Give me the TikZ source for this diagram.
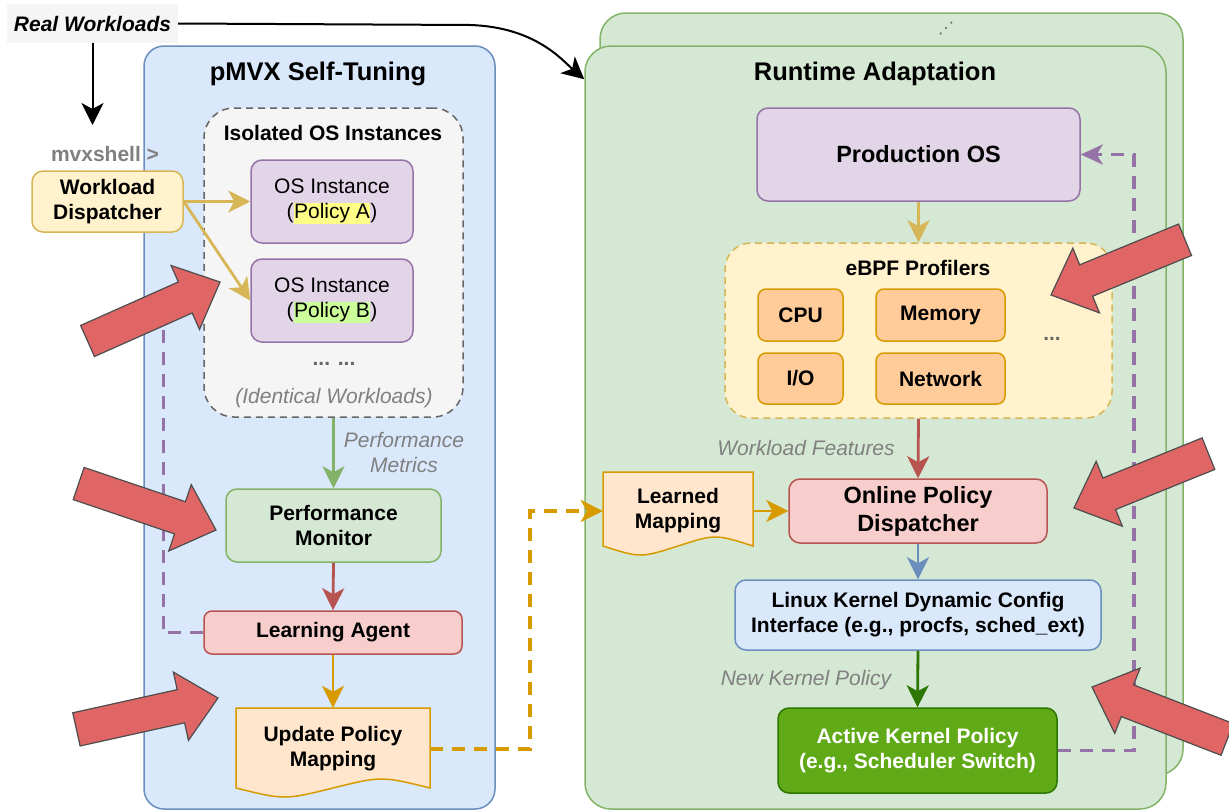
\documentclass[tikz,border=0pt]{standalone}
\usepackage{fontspec}
\setmainfont{Liberation Sans}
\newfontfamily\symfont{DejaVu Sans}
\usetikzlibrary{arrows.meta}
\definecolor{bluefill}{HTML}{DAE8FC}
\definecolor{blueline}{HTML}{6C8EBF}
\definecolor{greenfill}{HTML}{D5E8D4}
\definecolor{greenline}{HTML}{82B366}
\definecolor{purplefill}{HTML}{E1D5E7}
\definecolor{purpleline}{HTML}{9673A6}
\definecolor{yellowfill}{HTML}{FFF2CC}
\definecolor{yellowline}{HTML}{D6B656}
\definecolor{orangefill}{HTML}{FFE6CC}
\definecolor{orangeline}{HTML}{D79B00}
\definecolor{profilefill}{HTML}{FFCC99}
\definecolor{redfill}{HTML}{F8CECC}
\definecolor{redline}{HTML}{B85450}
\definecolor{grayfill}{HTML}{F5F5F5}
\definecolor{grayline}{HTML}{666666}
\definecolor{labelgray}{HTML}{808080}
\definecolor{activefill}{HTML}{60A917}
\definecolor{activeline}{HTML}{2D7600}
\definecolor{hintred}{HTML}{E06666}
\definecolor{hintline}{HTML}{4D4D4D}
\definecolor{hlyellow}{HTML}{FFFF88}
\definecolor{hlgreen}{HTML}{CCFF99}
\def\fatarrow{-- (-38,35) -- (-38,17) -- (-145,17) -- (-145,-17) -- (-38,-17) -- (-38,-35) -- cycle}
\def\docpath#1#2#3#4{(#1,#2) -- (#1+#3,#2) -- (#1+#3,#2+#4) .. controls (#1+0.75*#3,#2+#4-12) .. (#1+0.5*#3,#2+#4) .. controls (#1+0.25*#3,#2+#4+12) .. (#1,#2+#4) -- cycle}
\def\hilite#1#2{{\setlength{\fboxsep}{0.5pt}\colorbox{#1}{#2}}}

\begin{document}
\begin{tikzpicture}[x=1pt,y=-1pt,
    txt/.style={font=\fontsize{21}{25}\selectfont},
    bold/.style={font=\fontsize{21}{25}\selectfont\bfseries},
    big/.style={font=\fontsize{23.5}{28}\selectfont\bfseries},
    title/.style={font=\fontsize{25.5}{30}\selectfont\bfseries},
    lbl/.style={font=\fontsize{21}{25}\selectfont\itshape,text=labelgray,align=center},
    container/.style={rectangle,rounded corners=#1,line width=1.5pt,inner sep=0pt},
    box/.style={rectangle,rounded corners=11pt,line width=1.5pt,align=center,inner sep=0pt},
    flow/.style={line width=2.8pt,-{Stealth[length=22pt,width=22pt,inset=6pt]}},
    dashflow/.style={line width=3.5pt,dash pattern=on 13pt off 9pt},
    hint/.style={fill=hintred,draw=hintline,line width=1.2pt,line join=miter}]
\useasboundingbox (0,0) rectangle (1229,811);

\node[container=20pt,fill=bluefill,draw=blueline,minimum width=351pt,minimum height=763pt] (pmx) at (319.5,427.5) {};
\node[container=26pt,fill=greenfill,draw=greenline,minimum width=583pt,minimum height=762pt] (rtback) at (891.5,394) {};
\node[container=26pt,fill=greenfill,draw=greenline,minimum width=581pt,minimum height=763pt] (rtbox) at (875.5,427.5) {};
\node[title] (pmxtitle) at (318,74) {pMVX Self-Tuning};
\node[title] (rttitle) at (875,74) {Runtime Adaptation};
\node[font=\fontsize{16}{16}\selectfont\symfont,text=grayline,inner sep=0pt] (more) at (946,29) {⋰};

\node[fill=grayfill,minimum width=171pt,minimum height=39pt,font=\fontsize{21}{25}\selectfont\bfseries\itshape] (rw) at (92.5,23.5) {Real Workloads};
\coordinate (rwend) at (92.5,125);
\node[bold,text=labelgray] (mvx) at (105,154) {mvxshell >};
\node[box,bold,fill=yellowfill,draw=yellowline,minimum width=151pt,minimum height=61pt] (wd) at (107.5,201.5) {Workload\\Dispatcher};

\node[container=30pt,fill=grayfill,draw=grayline,dash pattern=on 7pt off 5pt,minimum width=259pt,minimum height=309pt] (iso) at (333.5,262.5) {};
\node[bold] (isotitle) at (333,133) {Isolated OS Instances};
\node[box,txt,fill=purplefill,draw=purpleline,minimum width=162pt,minimum height=83pt] (osa) at (332,201.5) {OS Instance\\(\hilite{hlyellow}{Policy A})};
\node[box,txt,fill=purplefill,draw=purpleline,minimum width=162pt,minimum height=83pt] (osb) at (332,300.5) {OS Instance\\(\hilite{hlgreen}{Policy B})};
\node[bold,text=grayline] (osmore) at (334,364) {... ...};
\node[lbl] (same) at (334,398) {(Identical Workloads)};

\node[box,bold,fill=greenfill,draw=greenline,minimum width=215pt,minimum height=73pt] (pm) at (333.5,525.5) {Performance\\Monitor};
\node[lbl] (metrics) at (404,452) {Performance\\Metrics};
\node[box,bold,rounded corners=8pt,fill=redfill,draw=redline,minimum width=258pt,minimum height=43pt] (la) at (333,632.5) {Learning Agent};
\filldraw[fill=orangefill,draw=orangeline,line width=1.5pt] \docpath{236}{708}{194}{80};
\node[bold,align=center,minimum width=194pt,minimum height=82pt] (upm) at (333,749) {Update Policy\\Mapping};

\node[box,big,fill=purplefill,draw=purpleline,minimum width=323pt,minimum height=93pt] (pos) at (918.5,154.5) {Production OS};
\node[container=26pt,fill=yellowfill,draw=yellowline,dash pattern=on 7pt off 5pt,minimum width=387pt,minimum height=175pt] (ebpf) at (918.5,330.5) {};
\node[bold] (ebpftitle) at (918,268) {eBPF Profilers};
\node[box,bold,rounded corners=8pt,fill=profilefill,draw=orangeline,minimum width=85pt,minimum height=52pt] (cpu) at (800.5,315) {CPU};
\node[box,bold,rounded corners=8pt,fill=profilefill,draw=orangeline,minimum width=129pt,minimum height=52pt] (mem) at (940.5,315) {Memory};
\node[box,bold,rounded corners=8pt,fill=profilefill,draw=orangeline,minimum width=85pt,minimum height=51pt] (io) at (800.5,378.5) {I/O};
\node[box,bold,rounded corners=8pt,fill=profilefill,draw=orangeline,minimum width=129pt,minimum height=51pt] (net) at (940.5,378.5) {Network};
\node[bold,text=grayline] (ebpfmore) at (1052,339) {...};

\node[lbl] (features) at (806,448) {Workload Features};
\filldraw[fill=orangefill,draw=orangeline,line width=1.5pt] \docpath{603}{472}{150}{74};
\node[bold,align=center,minimum width=150pt,minimum height=78pt] (lm) at (678,511) {Learned\\Mapping};
\node[box,big,fill=redfill,draw=redline,minimum width=258pt,minimum height=64pt] (opd) at (918,511) {Online Policy\\Dispatcher};
\node[box,bold,fill=bluefill,draw=blueline,minimum width=366pt,minimum height=70pt] (lk) at (918,615) {Linux Kernel Dynamic Config\\Interface (e.g., procfs, sched\_ext)};
\node[lbl] (newpol) at (806,680) {New Kernel Policy};
\node[box,bold,text=white,fill=activefill,draw=activeline,minimum width=279pt,minimum height=85pt] (akp) at (917.5,750.5) {Active Kernel Policy\\(e.g., Scheduler Switch)};

\draw[flow,line width=2pt] (rw.south) -- (rwend);
\draw[flow,line width=2pt] (rw.east) -- (470,25) .. controls (535,27) and (562,60) .. ([yshift=-34pt]rtbox.north west);
\draw[flow,yellowline] (wd.east) -- (osa.west);
\draw[flow,yellowline] (wd.east) -- (osb.west);
\draw[flow,greenline] (iso.south) -- (pm.north);
\draw[flow,redline] (pm.south) -- (la.north);
\draw[flow,orangeline] (la.south) -- (upm.north);
\draw[dashflow,purpleline] (la.west) -| ++(-40,-332) -- (iso.west |- osb.west);
\draw[dashflow,orangeline,-{Stealth[length=22pt,width=22pt,inset=6pt]}] (upm.east) -- ++(100,0) |- (lm.west);
\draw[flow,yellowline] (pos.south) -- (ebpf.north);
\draw[flow,redline] (ebpf.south) -- (opd.north);
\draw[flow,orangeline] (lm.east) -- (opd.west);
\draw[flow,blueline] (opd.south) -- (lk.north);
\draw[flow,activeline] (lk.south) -- (akp.north);
\draw[dashflow,purpleline,-{Stealth[length=22pt,width=20pt,inset=6pt]}] (akp.east) -- ++(76,0) |- (pos.east);

\begin{scope}[shift={(220,282)},rotate=24]
    \draw[hint] (0,0) \fatarrow;
\end{scope}
\begin{scope}[shift={(216,530)},rotate=-18.7]
    \draw[hint] (0,0) \fatarrow;
\end{scope}
\begin{scope}[shift={(218,698)},rotate=12.5]
    \draw[hint] (0,0) \fatarrow;
\end{scope}
\begin{scope}[shift={(1051,295)},rotate=202.4]
    \draw[hint] (0,0) \fatarrow;
\end{scope}
\begin{scope}[shift={(1074,508)},rotate=202]
    \draw[hint] (0,0) \fatarrow;
\end{scope}
\begin{scope}[shift={(1092,687)},rotate=158.8]
    \draw[hint] (0,0) \fatarrow;
\end{scope}
\end{tikzpicture}
\end{document}
